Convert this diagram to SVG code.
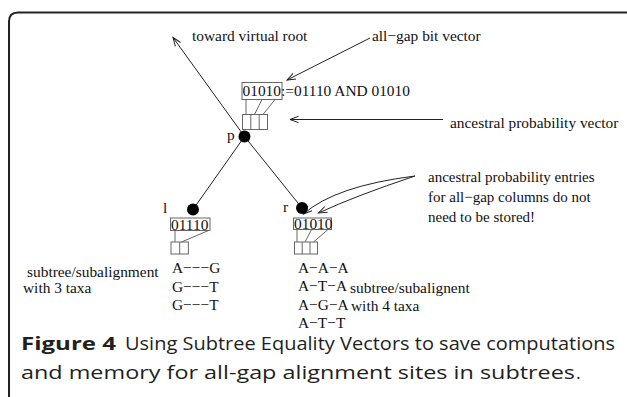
<svg xmlns="http://www.w3.org/2000/svg" width="627" height="397" viewBox="0 0 627 397">
<style>
.t{font-family:"Liberation Serif","Times New Roman",serif;fill:#111;font-size:15.4px}
.s{font-size:15px}
.cap{font-family:"Open Sans","Noto Sans",sans-serif;fill:#231f20;font-size:18px}
.ln{stroke:#222;stroke-width:1;fill:none}
.bx{stroke:#666;stroke-width:1;fill:none}
.nd{fill:#000}
</style>
<defs>
<marker id="ah" markerWidth="12" markerHeight="10" refX="9.5" refY="5" orient="auto" markerUnits="userSpaceOnUse">
<path d="M1,1.8 L9.5,5 L1,8.2" fill="none" stroke="#222" stroke-width="1"/>
</marker>
</defs>
<rect width="627" height="397" fill="#fff"/>
<path d="M9,397 V21.5 Q9,12.5 18,12.5 H627" fill="none" stroke="#222" stroke-width="2"/>

<g id="connectors">
<line class="ln" x1="244.5" y1="136.5" x2="173" y2="37.5" marker-end="url(#ah)"/>
<line class="ln" x1="244.5" y1="136.5" x2="193" y2="209.5"/>
<line class="ln" x1="244.5" y1="136.5" x2="302" y2="208"/>
<line class="ln" x1="370" y1="38" x2="287" y2="80" marker-end="url(#ah)"/>
<line class="ln" x1="443" y1="119.5" x2="290" y2="119.5" marker-end="url(#ah)"/>
<path class="ln" d="M415,176 Q335,186 303.5,214" marker-end="url(#ah)"/>
<path class="ln" d="M415,176 Q355,196 318.5,213" marker-end="url(#ah)"/>
</g>

<g id="node-p">
<circle class="nd" cx="244.5" cy="136.5" r="6"/>
<text class="t" x="227" y="140">p</text>
<rect class="bx" x="242" y="82.5" width="40" height="17"/>
<text class="t" x="242.5" y="96">01010:=01110 AND 01010</text>
<rect class="bx" x="242.5" y="114.5" width="25" height="15"/>
<line class="bx" x1="250.8" y1="114.5" x2="250.8" y2="129.5"/>
<line class="bx" x1="259.2" y1="114.5" x2="259.2" y2="129.5"/>
<line class="bx" x1="246" y1="99.5" x2="246" y2="114.5"/>
<line class="bx" x1="262" y1="99.5" x2="254.5" y2="114.5"/>
<line class="bx" x1="275" y1="99.5" x2="263" y2="114.5"/>
</g>

<g id="node-l">
<circle class="nd" cx="193" cy="209.5" r="6"/>
<text class="t" x="163" y="213">l</text>
<rect class="bx" x="170.5" y="218" width="39.5" height="12.5"/>
<text class="t" x="171" y="230">01110</text>
<rect class="bx" x="171" y="242" width="17.4" height="12"/>
<line class="bx" x1="179.7" y1="242" x2="179.7" y2="254"/>
<line class="bx" x1="175" y1="230.5" x2="175" y2="242"/>
<line class="bx" x1="208.5" y1="230.5" x2="181.5" y2="242"/>
<text class="t" x="172" y="273">A−−−G</text>
<text class="t" x="172" y="292">G−−−T</text>
<text class="t" x="172" y="310">G−−−T</text>
<text class="t" x="27" y="277">subtree/subalignment</text>
<text class="t" x="23" y="293">with 3 taxa</text>
</g>

<g id="node-r">
<circle class="nd" cx="302" cy="208" r="6"/>
<text class="t" x="283" y="212">r</text>
<rect class="bx" x="293.5" y="218" width="38" height="11.5"/>
<text class="t" x="294" y="229">01010</text>
<rect class="bx" x="294.5" y="242" width="23" height="12"/>
<line class="bx" x1="302.2" y1="242" x2="302.2" y2="254"/>
<line class="bx" x1="310" y1="242" x2="310" y2="254"/>
<line class="bx" x1="297" y1="229.5" x2="297" y2="242"/>
<line class="bx" x1="311.5" y1="229.5" x2="305" y2="242"/>
<line class="bx" x1="328" y1="229.5" x2="313.5" y2="242"/>
<text class="t" x="298" y="273">A−A−A</text>
<text class="t" x="298" y="291">A−T−A</text>
<text class="t" x="298" y="310">A−G−A</text>
<text class="t" x="298" y="327.5">A−T−T</text>
<text class="t" x="350" y="293" font-size="15px">subtree/subalignent</text>
<text class="t" x="351" y="311" font-size="15px">with 4 taxa</text>
</g>

<g id="labels">
<text class="t" x="192" y="41">toward virtual root</text>
<text class="t" x="372" y="41">all−gap bit vector</text>
<text class="t" x="450" y="128">ancestral probability vector</text>
<text class="t s" x="428" y="182">ancestral probability entries</text>
<text class="t s" x="428" y="202">for all−gap columns do not</text>
<text class="t s" x="428" y="222">need to be stored!</text>
</g>

<g id="caption">
<text class="cap" x="21" y="350" font-weight="bold" textLength="95" lengthAdjust="spacingAndGlyphs">Figure 4</text>
<text class="cap" x="125" y="350" textLength="490" lengthAdjust="spacingAndGlyphs">Using Subtree Equality Vectors to save computations</text>
<text class="cap" x="21" y="379" textLength="554" lengthAdjust="spacingAndGlyphs">and memory for all-gap alignment sites in subtrees</text>
<text class="cap" x="576" y="379" font-size="13px">.</text>
</g>
</svg>
